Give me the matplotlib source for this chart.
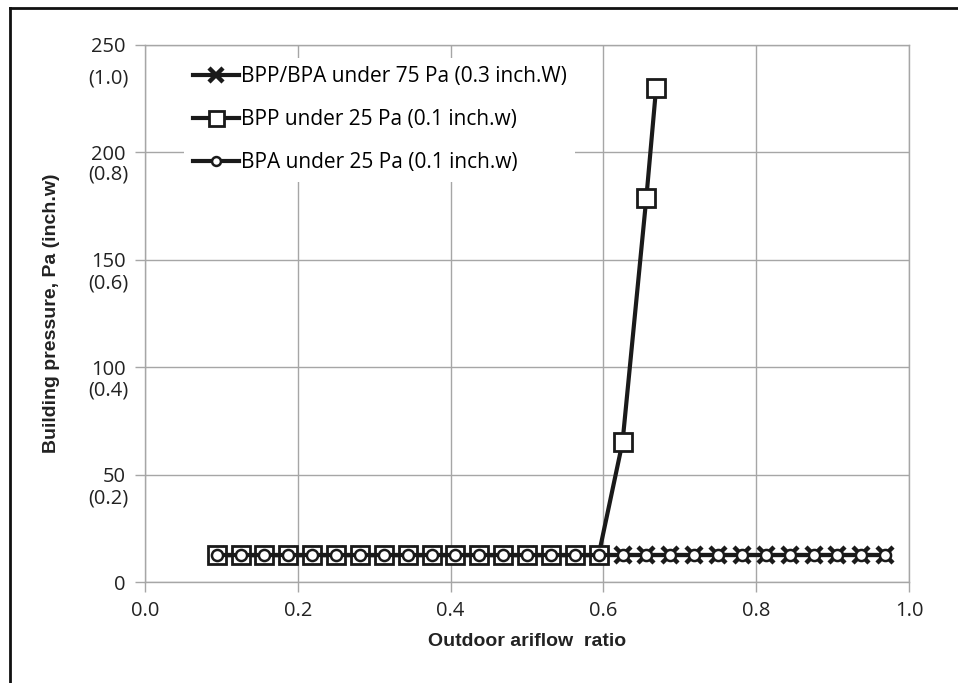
import matplotlib
matplotlib.use("Agg")
import matplotlib.pyplot as plt
from matplotlib.lines import Line2D

# Outdoor airflow ratio sampled in steps of 1/32
ratio_all = [k / 32 for k in range(3, 32)]
pressure_75 = [12.5] * len(ratio_all)          # BPP/BPA under 75 Pa
bpa_25 = [12.5] * len(ratio_all)               # BPA under 25 Pa

ratio_bpp = [k / 32 for k in range(3, 20)] + [0.625, 0.65625, 0.669]
bpp_25 = [12.5] * 17 + [65, 179, 230]          # BPP under 25 Pa

y_ticks = [0, 50, 100, 150, 200, 250]
y_inch = ["", "(0.2)", "(0.4)", "(0.6)", "(0.8)", "(1.0)"]
y_inch_pos = [None, 39, 89, 139, 189.5, 234.5]
x_ticks = [0.0, 0.2, 0.4, 0.6, 0.8, 1.0]

W, H = 958, 683
fig = plt.figure(figsize=(W / 100, H / 100), dpi=100)
ax = fig.add_axes([145 / W, 1 - 582 / H, (909 - 145) / W, (582 - 45) / H])

tick_font = "Open Sans"
label_font = ["Liberation Sans Narrow", "Liberation Sans", "DejaVu Sans"]
grid_c = "#a6a6a6"
line_c = "#1a1a1a"
fs = 14.5

ax.plot(ratio_all, pressure_75, color=line_c, lw=3.0, marker="x", ms=12,
        mew=3.2, mec=line_c, zorder=3,
        label="BPP/BPA under 75 Pa (0.3 inch.W)")
ax.plot(ratio_bpp, bpp_25, color=line_c, lw=3.0, marker="s", ms=13.5,
        mfc="white", mec=line_c, mew=2, zorder=4,
        label="BPP under 25 Pa (0.1 inch.w)")
ax.plot(ratio_all, bpa_25, color=line_c, lw=3.0, marker="o", ms=8,
        mfc="white", mec=line_c, mew=1.8, zorder=5,
        label="BPA under 25 Pa (0.1 inch.w)")

ax.set_xlim(0, 1.0)
ax.set_ylim(0, 250)
ax.set_xticks(x_ticks)
ax.set_xticklabels([f"{v:.1f}" for v in x_ticks], fontsize=fs,
                   family=tick_font, color="#222222")
ax.set_yticks(y_ticks)
ax.set_yticklabels([str(v) for v in y_ticks], fontsize=fs,
                   family=tick_font, color="#222222")
for yv, txt in zip(y_inch_pos, y_inch):
    if txt:
        ax.text(-0.022, yv, txt, transform=ax.get_yaxis_transform(),
                ha="right", va="center", fontsize=fs, family=tick_font,
                color="#222222")

ax.tick_params(axis="both", direction="out", length=7, width=1,
               color=grid_c, pad=7)
ax.grid(True, color=grid_c, lw=1)
ax.set_axisbelow(True)
for s in ax.spines.values():
    s.set_color(grid_c)
    s.set_linewidth(1)

ax.set_xlabel("Outdoor ariflow  ratio", fontsize=14, fontweight="bold",
              family=label_font, labelpad=8, color="#222222")
ax.set_ylabel("Building pressure, Pa (inch.w)", fontsize=14,
              fontweight="bold", family=label_font, color="#222222",
              va="center")
ax.yaxis.set_label_coords(-0.122, 0.5)

leg = ax.legend(loc="upper left", bbox_to_anchor=(0.038, 0.995),
                frameon=True, fancybox=False, edgecolor="none",
                facecolor="white", framealpha=1, handlelength=2.2,
                handletextpad=0.1, labelspacing=1.05, markerscale=0.8,
                prop={"family": tick_font, "size": 15})
leg.set_zorder(6)

# Outer frame along the top and left of the figure
fig.add_artist(Line2D([10 / W, 1], [1 - 8 / H, 1 - 8 / H],
                      transform=fig.transFigure, color="#111111", lw=2))
fig.add_artist(Line2D([10 / W, 10 / W], [0, 1 - 8 / H],
                      transform=fig.transFigure, color="#111111", lw=2))

fig.savefig("out.png", dpi=100)
